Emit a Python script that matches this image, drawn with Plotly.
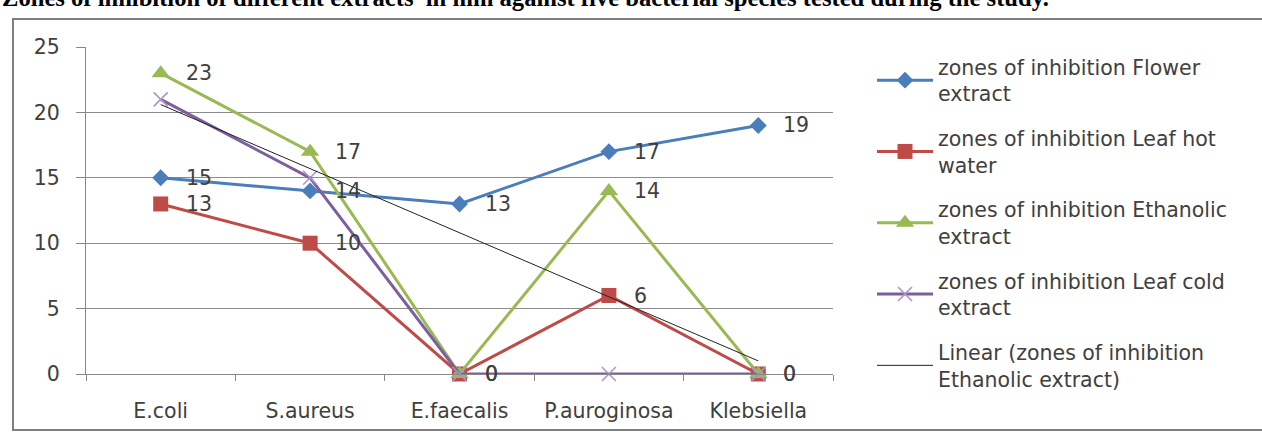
import numpy as np
import plotly.graph_objects as go

categories = ["E.coli", "S.aureus", "E.faecalis", "P.auroginosa", "Klebsiella"]
flower = [15, 14, 13, 17, 19]
leaf_hot = [13, 10, 0, 6, 0]
ethanolic = [23, 17, 0, 14, 0]
leaf_cold = [21, 15, 0, 0, 0]
series_names = [
    "zones of inhibition Flower<br>extract",
    "zones of inhibition Leaf hot<br>water",
    "zones of inhibition Ethanolic<br>extract",
    "zones of inhibition Leaf cold<br>extract",
]
trend_name = "Linear (zones of inhibition<br>Ethanolic extract)"
title_text = ("Zones of inhibition of different extracts  in mm against five "
              "bacterial species tested during the study.")
y_ticks = [0, 5, 10, 15, 20, 25]

W, H = 1262, 432
L, R, T, B = 86, 429, 47, 58
PW, PH = W - L - R, H - T - B

def px_x(p):
    return (p - L) / PW

def px_y(p):
    return (H - B - p) / PH

FONT = "DejaVu Sans"
FS = 20.5
TXT = "#404040"

fig = go.Figure()

styles = [
    dict(color="#4A7EBB", symbol="diamond", size=13, mcolor="#4A7EBB", mline=0),
    dict(color="#BE4B48", symbol="square", size=15, mcolor="#BE4B48", mline=0),
    dict(color="#98B954", symbol="triangle-up", size=16, mcolor="#98B954", mline=0),
    dict(color="#7D5FA0", symbol="x-thin", size=14, mcolor="#A898C8", mline=1.6),
]
data = [flower, leaf_hot, ethanolic, leaf_cold]

for i, (vals, nm, st) in enumerate(zip(data, series_names, styles)):
    fig.add_trace(go.Scatter(
        x=categories, y=vals, name=nm, mode="lines+markers",
        line=dict(color=st["color"], width=3),
        marker=dict(symbol=st["symbol"], size=st["size"], color=st["mcolor"],
                    line=dict(width=st["mline"], color=st["mcolor"])),
        cliponaxis=False, legendgroup=f"g{i}",
    ))

idx = np.arange(1, len(categories) + 1)
slope, intercept = np.polyfit(idx, ethanolic, 1)
trend = slope * idx + intercept
fig.add_trace(go.Scatter(
    x=categories, y=trend, name=trend_name, mode="lines",
    line=dict(color="#222222", width=1), cliponaxis=False, legendgroup="g4",
))

annotations = []
for vals in [flower, leaf_hot, ethanolic]:
    for c, v in zip(categories, vals):
        annotations.append(dict(
            x=c, y=v, xref="x", yref="y", text=str(v), showarrow=False,
            xanchor="left", yanchor="middle", xshift=23,
            font=dict(family=FONT, size=FS, color=TXT),
        ))

annotations.append(dict(
    x=px_x(0), y=px_y(13), xref="paper", yref="paper", text="<b>" + title_text + "</b>",
    showarrow=False, xanchor="left", yanchor="bottom",
    font=dict(family="Liberation Serif", size=24.6, color="#000000"),
))

fig.update_layout(
    width=W, height=H,
    margin=dict(l=L, r=R, t=T, b=B, pad=0, autoexpand=False),
    paper_bgcolor="white", plot_bgcolor="white",
    showlegend=True,
    legend=dict(
        x=px_x(872), y=px_y(47), xanchor="left", yanchor="top",
        font=dict(family=FONT, size=FS, color=TXT),
        itemwidth=56, tracegroupgap=15, bgcolor="rgba(0,0,0,0)",
        maxheight=420,
    ),
    annotations=annotations,
    shapes=[dict(
        type="rect", xref="paper", yref="paper",
        x0=px_x(13), x1=px_x(1290), y0=px_y(430), y1=px_y(19),
        line=dict(color="#7F7F7F", width=2), fillcolor="rgba(0,0,0,0)", layer="below",
    )],
    xaxis=dict(
        type="category", range=[-0.5, len(categories) - 0.5], automargin=False,
        tickson="boundaries", ticks="outside", ticklen=6, tickcolor="#888888",
        showline=True, linecolor="#888888", linewidth=1, showgrid=False,
        tickfont=dict(family=FONT, size=FS, color=TXT), ticklabelstandoff=18,
        zeroline=False,
    ),
    yaxis=dict(
        range=[0, 25], tickvals=y_ticks, ticks="outside", ticklen=9, tickcolor="#888888",
        showline=True, linecolor="#888888", linewidth=1, automargin=False,
        showgrid=True, gridcolor="#8C8C8C", gridwidth=1, zeroline=False,
        tickfont=dict(family=FONT, size=FS, color=TXT), ticklabelstandoff=12,
    ),
)

fig.write_html("out.html")
